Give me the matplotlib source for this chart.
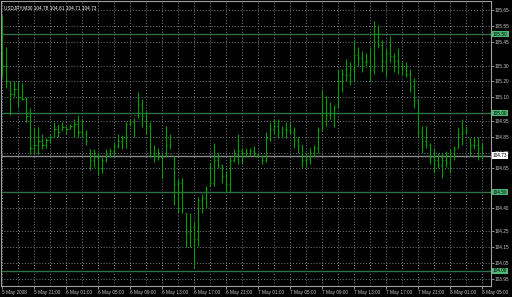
import matplotlib.pyplot as plt
from matplotlib.transforms import blended_transform_factory

# USDJPY M30 bars (index 0 = 5 May 2008 17:00)
highs = [105.62, 105.42, 105.20, 105.20, 105.20, 105.19, 105.10, 105.03, 104.91, 104.91,
         104.87, 104.84, 104.87, 104.94, 104.93, 104.94, 104.92, 104.93, 104.96, 104.99,
         104.96, 104.89, 104.77, 104.77, 104.75, 104.72, 104.77, 104.78, 104.81, 104.87,
         104.86, 104.94, 104.96, 104.97, 105.13, 105.09, 105.01, 104.94, 104.80, 104.78,
         104.75, 104.92, 104.87, 104.73, 104.58, 104.59, 104.37, 104.37, 104.31, 104.47,
         104.49, 104.54, 104.69, 104.81, 104.75, 104.68, 104.63, 104.72, 104.77, 104.87,
         104.78, 104.78, 104.78, 104.79, 104.75, 104.73, 104.88, 104.94, 104.96, 104.96,
         104.92, 104.94, 104.94, 104.91, 104.85, 104.80, 104.75, 104.78, 104.80, 104.91,
         105.15, 105.11, 105.07, 105.05, 105.27, 105.28, 105.34, 105.32, 105.46, 105.42,
         105.39, 105.38, 105.41, 105.58, 105.56, 105.46, 105.41, 105.49, 105.38, 105.41,
         105.32, 105.32, 105.28, 105.22, 105.09, 104.92, 104.92, 104.81, 104.78, 104.75,
         104.75, 104.76, 104.77, 104.79, 104.91, 104.96, 104.92, 104.84, 104.85, 104.85,
         104.81]
lows = [105.23, 105.16, 104.99, 105.10, 105.04, 105.08, 104.94, 104.74, 104.74, 104.74,
        104.77, 104.78, 104.81, 104.85, 104.85, 104.89, 104.87, 104.90, 104.85, 104.85,
        104.85, 104.80, 104.64, 104.66, 104.61, 104.62, 104.69, 104.72, 104.73, 104.78,
        104.77, 104.78, 104.92, 104.85, 104.97, 104.91, 104.87, 104.72, 104.69, 104.70,
        104.59, 104.72, 104.77, 104.42, 104.37, 104.37, 104.15, 104.15, 104.02, 104.16,
        104.37, 104.40, 104.54, 104.54, 104.65, 104.56, 104.50, 104.50, 104.69, 104.68,
        104.68, 104.72, 104.73, 104.73, 104.72, 104.68, 104.69, 104.82, 104.87, 104.84,
        104.85, 104.84, 104.87, 104.78, 104.75, 104.66, 104.66, 104.68, 104.72, 104.75,
        104.89, 104.92, 104.96, 104.91, 105.04, 105.13, 105.20, 105.18, 105.20, 105.30,
        105.26, 105.29, 105.20, 105.25, 105.41, 105.26, 105.23, 105.32, 105.26, 105.25,
        105.24, 105.23, 105.13, 105.03, 104.85, 104.75, 104.78, 104.68, 104.62, 104.65,
        104.59, 104.66, 104.62, 104.70, 104.78, 104.80, 104.87, 104.73, 104.77, 104.70,
        104.71]
opens = [105.40, 105.30, 105.20, 105.12, 105.15, 105.10, 105.09, 104.98, 104.78, 104.80,
         104.82, 104.80, 104.83, 104.85, 104.90, 104.89, 104.91, 104.90, 104.92, 104.93,
         104.88, 104.87, 104.77, 104.70, 104.72, 104.65, 104.70, 104.74, 104.76, 104.79,
         104.82, 104.84, 104.93, 104.94, 104.99, 105.05, 104.98, 104.92, 104.75, 104.73,
         104.72, 104.85, 104.80, 104.73, 104.55, 104.56, 104.37, 104.24, 104.28, 104.20,
         104.45, 104.46, 104.54, 104.56, 104.70, 104.67, 104.60, 104.55, 104.70, 104.74,
         104.76, 104.75, 104.75, 104.76, 104.74, 104.73, 104.70, 104.84, 104.90, 104.92,
         104.88, 104.90, 104.89, 104.88, 104.83, 104.80, 104.70, 104.71, 104.75, 104.78,
         104.89, 105.00, 104.99, 105.00, 105.04, 105.20, 105.25, 105.24, 105.28, 105.37,
         105.35, 105.32, 105.33, 105.27, 105.50, 105.43, 105.33, 105.38, 105.36, 105.33,
         105.30, 105.29, 105.25, 105.17, 105.08, 104.88, 104.82, 104.80, 104.72, 104.70,
         104.67, 104.70, 104.69, 104.73, 104.78, 104.87, 104.88, 104.84, 104.80, 104.80,
         104.78]
closes = [105.30, 105.20, 105.12, 105.15, 105.10, 105.09, 104.98, 104.78, 104.80, 104.82,
          104.80, 104.83, 104.85, 104.90, 104.88, 104.91, 104.90, 104.92, 104.93, 104.88,
          104.87, 104.82, 104.70, 104.72, 104.65, 104.70, 104.74, 104.76, 104.79, 104.82,
          104.84, 104.93, 104.94, 104.99, 105.05, 104.98, 104.92, 104.75, 104.73, 104.72,
          104.85, 104.80, 104.74, 104.55, 104.56, 104.40, 104.24, 104.28, 104.20, 104.45,
          104.46, 104.52, 104.56, 104.70, 104.67, 104.60, 104.55, 104.70, 104.74, 104.76,
          104.75, 104.75, 104.76, 104.74, 104.73, 104.70, 104.84, 104.90, 104.92, 104.88,
          104.90, 104.89, 104.88, 104.83, 104.80, 104.70, 104.71, 104.75, 104.78, 104.89,
          105.00, 104.99, 105.00, 105.04, 105.20, 105.25, 105.24, 105.28, 105.37, 105.35,
          105.32, 105.33, 105.27, 105.50, 105.43, 105.33, 105.38, 105.36, 105.33, 105.30,
          105.29, 105.25, 105.17, 105.08, 104.88, 104.82, 104.80, 104.72, 104.70, 104.67,
          104.70, 104.69, 104.73, 104.77, 104.87, 104.88, 104.89, 104.80, 104.80, 104.78,
          104.73]

price_ticks = [105.65, 105.55, 105.45, 105.30, 105.20, 105.10, 104.95, 104.85, 104.75,
               104.65, 104.40, 104.25, 104.15, 104.05, 103.95]
level_lines = [105.50, 105.00, 104.50, 104.00]
last_price = 104.73
time_labels = ['5 May 2008', '5 May 21:00', '6 May 01:00', '6 May 05:00', '6 May 09:00',
               '6 May 13:00', '6 May 17:00', '6 May 21:00', '7 May 01:00', '7 May 05:00',
               '7 May 09:00', '7 May 13:00', '7 May 17:00', '7 May 21:00', '8 May 01:00',
               '8 May 05:00']
header = 'USDJPY,M30 104.78 104.81 104.71 104.73'

fg = '#c8c8c8'
grid_col = '#6f7f8f'
bar_col = '#00a000'
font = ['Liberation Sans Narrow', 'Liberation Sans', 'DejaVu Sans']
fs = 3.4

fig = plt.figure(figsize=(5.12, 2.97), dpi=100, facecolor='black')
ax = fig.add_axes([1 / 512, 11 / 297, 490 / 512, 285 / 297], facecolor='black')

n = len(highs)
x = list(range(n))
ax.set_xlim(-0.33, 122.2)
ax.set_ylim(103.905, 105.709)

# grid
ax.set_yticks(price_ticks)
ax.set_xticks(list(range(0, 124, 4)))
ax.grid(True, color=grid_col, linestyle=(0, (1, 2)), linewidth=0.7)

# support / resistance lines and current price
for lv in level_lines:
    ax.axhline(lv, color='#2f7048', linewidth=1.0, zorder=2)
ax.axhline(last_price, color='#8a8a8a', linewidth=1.0, zorder=2)

# OHLC bars
ax.vlines(x, lows, highs, color=bar_col, linewidth=0.8, zorder=3)
ax.hlines(opens, [i - 0.3 for i in x], x, color=bar_col, linewidth=0.8, zorder=3)
ax.hlines(closes, x, [i + 0.3 for i in x], color=bar_col, linewidth=0.8, zorder=3)

# axes look
for side in ['top', 'bottom', 'left', 'right']:
    ax.spines[side].set_color('#a0a0a0')
    ax.spines[side].set_linewidth(0.8)
ax.yaxis.tick_right()
ax.set_yticklabels([f'{p:.2f}' for p in price_ticks])
ax.tick_params(axis='y', colors=fg, labelsize=fs, length=2, width=0.5, pad=0.5)
xl = []
for k in range(31):
    xl.append(time_labels[k // 2] if k % 2 == 0 and k // 2 < len(time_labels) else '')
ax.set_xticklabels(xl)
ax.tick_params(axis='x', colors=fg, labelsize=fs, length=2, width=0.5, pad=1)
for lab in ax.get_xticklabels() + ax.get_yticklabels():
    lab.set_family(font)
for lab in ax.get_xticklabels():
    lab.set_horizontalalignment('left')
for k, t in enumerate(ax.xaxis.get_major_ticks()):
    if k % 2 == 1:
        t.tick1line.set_visible(False)

# highlighted price labels on the right
tr = blended_transform_factory(ax.transAxes, ax.transData)
for lv in level_lines:
    ax.text(1.004, lv, f'{lv:.2f}', transform=tr, fontsize=fs, family=font,
            color='black', va='center', ha='left', clip_on=False, zorder=5,
            bbox=dict(boxstyle='square,pad=0.2', fc='#4cb873', ec='none'))
ax.text(1.004, last_price, f'{last_price:.2f}', transform=tr, fontsize=fs, family=font,
        color='black', va='center', ha='left', clip_on=False, zorder=5,
        bbox=dict(boxstyle='square,pad=0.2', fc='white', ec='none'))

ax.text(0.006, 0.985, header, transform=ax.transAxes, fontsize=fs, family=font,
        color='white', va='top', ha='left')

fig.savefig('out.png', dpi=100, facecolor='black')
